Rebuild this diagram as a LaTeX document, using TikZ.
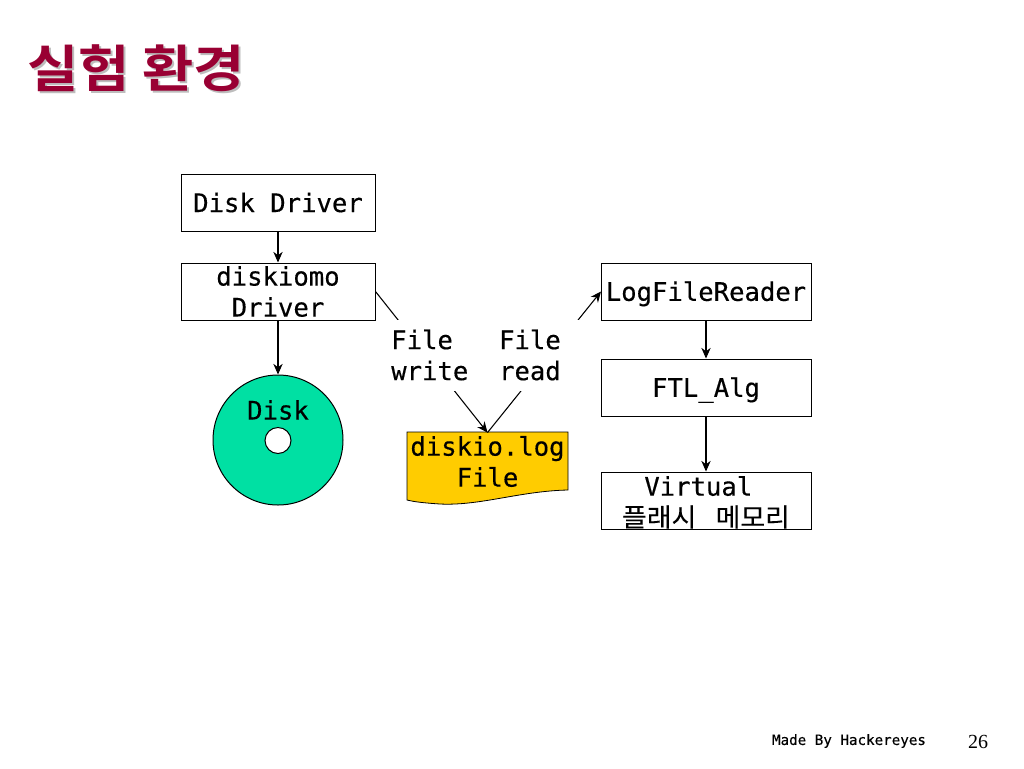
\documentclass[tikz,border=0pt]{standalone}
\usepackage{fontspec}
\setmainfont{Liberation Serif}
\setmonofont[FakeBold=0.35]{DejaVu Sans Mono}
\newfontfamily\krbold[FakeStretch=1.10]{Noto Sans CJK KR Bold}
\newfontfamily\krreg[FakeStretch=1.05,FakeBold=0.2]{Noto Sans CJK KR}
\definecolor{titlered}{HTML}{990033}
\definecolor{titleshade}{HTML}{BDBDBD}
\definecolor{diskgreen}{HTML}{00E0A3}
\definecolor{docyellow}{HTML}{FFCC00}
\usetikzlibrary{arrows.meta}
\tikzset{
  x=0.75pt,y=-0.75pt,
  boxnode/.style={draw=black,line width=0.75pt,fill=white,inner sep=0pt,align=center,
    font=\ttfamily\fontsize{19.2}{23.25}\selectfont},
  plaintext/.style={inner sep=0pt,align=center,font=\ttfamily\fontsize{19.2}{23.25}\selectfont},
  conn/.style={draw=black,line width=0.8pt,-{Stealth[length=8pt,width=7pt]}},
  wide/.style={minimum width=145.5pt,minimum height=42.75pt},
  wider/.style={minimum width=157.5pt,minimum height=42.75pt},
  oneline/.style={text height=14pt,text depth=0pt},
  titletext/.style={inner sep=0pt,anchor=west,font=\krbold\fontsize{38}{46}\selectfont},
}
\newcommand{\titlestr}{실험 환경}
\begin{document}
\begin{tikzpicture}
\useasboundingbox (0,0) rectangle (1024,768);
% title, with its shadow inside one node
\node[titletext] (title) at (27,69) {\rlap{\kern1.6pt\raisebox{-1.6pt}{\textcolor{titleshade}{\titlestr}}}\textcolor{titlered}{\titlestr}};
% left column
\node[boxnode,wide] (driver) at (278,202.5) {Disk Driver};
\node[boxnode,wide] (diskiomo) at (278,291.5) {diskiomo\\Driver};
\node[circle,draw=black,line width=0.75pt,fill=diskgreen,minimum size=97.5pt,inner sep=0pt] (disk) at (278,440) {};
\node[circle,draw=black,line width=0.75pt,fill=white,minimum size=19.5pt,inner sep=0pt] (hole) at (278,440.5) {};
\node[plaintext] (disklabel) at (278,410) {Disk};
% document
\path[draw=black,line width=0.6pt,fill=docyellow]
  (407,432) -- (568,432) -- (568,490)
  .. controls (520,491) and (480,506) .. (440,504)
  .. controls (425,503) and (415,502) .. (407,500) -- cycle;
\node[plaintext,minimum width=120.75pt,minimum height=43pt] (doc) at (487.5,461.5) {diskio.log\\File};
% connectors pass under the label
\draw[conn] (diskiomo.east) -- (doc.north);
\draw[conn] (doc.north) -- (601,291.5) coordinate (readerin);
\node[plaintext,fill=white,minimum width=146.25pt,minimum height=53.25pt] (filelabel) at (482,355) {File\ \ \ File\hspace*{9pt}\\write\ \ read\hspace*{9pt}};
% right column
\node[boxnode,wider,oneline] (reader) at (706,291.5) {LogFileReader};
\node[boxnode,wider,oneline] (ftl) at (706,387.5) {FTL\_Alg};
\node[boxnode,wider] (virtual) at (706,500.5) {\rule{0pt}{17.5pt}Virtual\hspace*{11.55pt}\\{\krreg 플래시\hspace{10pt} 메모리}};
% vertical connectors
\draw[conn] (driver.south) -- (diskiomo.north);
\draw[conn] (diskiomo.south) -- (disk.north);
\draw[conn] (reader.south) -- (ftl.north);
\draw[conn] (ftl.south) -- (virtual.north);
% footer
\node[inner sep=0pt,font=\ttfamily\fontsize{10.65}{13}\selectfont] (made) at (849,741) {Made By Hackereyes};
\node[inner sep=0pt,font=\rmfamily\fontsize{15}{18}\selectfont] (page) at (978,742) {26};
\end{tikzpicture}
\end{document}
